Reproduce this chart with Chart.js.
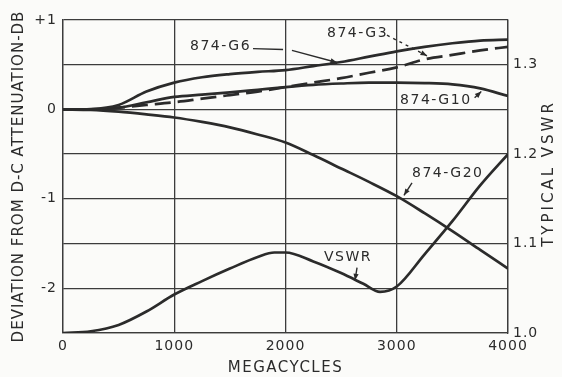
<!DOCTYPE html>
<html>
<head>
<meta charset="utf-8">
<script src="https://cdn.jsdelivr.net/npm/chart.js@4"></script>
<style>
  html, body { margin: 0; background: #fbfbf9; }
  #wrap { width: 562px; height: 377px; }
</style>
</head>
<body>
<div id="wrap"><canvas id="chart"></canvas></div>
<script>
"use strict";

// Frequencies (megacycles) at which the attenuation curves were read.
const megacycles = [0, 250, 500, 750, 1000, 1250, 1500, 1750, 2000, 2250, 2500, 2750, 3000, 3250, 3500, 3750, 4000];

// Deviation from d-c attenuation, dB.
const g6  = [0, 0.005, 0.05, 0.20, 0.30, 0.36, 0.395, 0.42, 0.44, 0.485, 0.53, 0.59, 0.65, 0.70, 0.74, 0.77, 0.78];
const g3  = [0, 0, 0.02, 0.05, 0.08, 0.12, 0.16, 0.20, 0.25, 0.30, 0.35, 0.41, 0.47, 0.56, 0.61, 0.66, 0.70];
const g10 = [0, 0, 0.02, 0.08, 0.14, 0.165, 0.19, 0.22, 0.25, 0.275, 0.29, 0.30, 0.30, 0.295, 0.28, 0.235, 0.15];
const g20 = [0, -0.005, -0.025, -0.055, -0.09, -0.14, -0.20, -0.28, -0.37, -0.51, -0.66, -0.81, -0.97, -1.16, -1.36, -1.57, -1.78];

// Typical VSWR, read on its own frequency points.
const vswrMegacycles = [0, 250, 500, 750, 1000, 1250, 1500, 1750, 1900, 2000, 2250, 2500, 2700, 2850, 3000, 3250, 3500, 3750, 4000];
const vswr = [1.0, 1.002, 1.009, 1.024, 1.043, 1.058, 1.072, 1.085, 1.090, 1.090, 1.080, 1.067, 1.055, 1.046, 1.052, 1.088, 1.125, 1.165, 1.2];

// Labelled ticks.
const dbTicks = [1, 0, -1, -2];
const dbTickLabels = ["+1", "0", "-1", "-2"];
const vswrTicks = [1.0, 1.1, 1.2, 1.3];
const vswrTickLabels = ["1.0", "1.1", "1.2", "1.3"];
const mcTicks = [0, 1000, 2000, 3000, 4000];
const mcTickLabels = ["0", "1000", "2000", "3000", "4000"];

const INK = "#2b2b2b";
const GRID = "#3c3c3c";
const PAPER = "#fbfbf9";
const FONT = "'DejaVu Sans', sans-serif";

const pairs = (xs, ys) => xs.map((x, i) => ({ x, y: ys[i] }));

function curve(label, xs, ys, axis, dash) {
  return {
    label,
    data: pairs(xs, ys),
    yAxisID: axis,
    borderColor: INK,
    borderWidth: 2.7,
    borderDash: dash || [],
    pointRadius: 0,
    cubicInterpolationMode: "monotone",
    fill: false,
  };
}

/** Label a tick only when it matches one of the listed values. */
function pickLabel(values, labels) {
  return (v) => {
    const i = values.findIndex((t) => Math.abs(t - v) < 1e-6);
    return i < 0 ? "" : labels[i];
  };
}

// Hand-lettered notes on the drawing, placed in data units.
const notes = [
  { text: "874-G6", at: [1142, 0.70], align: "left" },
  { text: "874-G3", at: [2373, 0.85], align: "left" },
  { text: "874-G10", at: [3030, 0.10], align: "left" },
  { text: "874-G20", at: [3137, -0.72], align: "left" },
  { text: "VSWR", at: [2562, -1.65], align: "center" },
];

const leaders = [
  { from: [1708, 0.68], to: [1978, 0.67], head: false },
  { from: [2058, 0.66], to: [2463, 0.525], head: true },
  { from: [2912, 0.83], to: [3272, 0.60], head: true, dash: [3, 4] },
  { from: [3700, 0.13], to: [3760, 0.20], head: true },
  { from: [3137, -0.82], to: [3065, -0.96], head: true },
  { from: [2643, -1.77], to: [2625, -1.91], head: true },
];

function arrowHead(ctx, x0, y0, x1, y1) {
  const a = Math.atan2(y1 - y0, x1 - x0);
  const len = 7, w = 0.38;
  ctx.beginPath();
  ctx.moveTo(x1, y1);
  ctx.lineTo(x1 - len * Math.cos(a - w), y1 - len * Math.sin(a - w));
  ctx.lineTo(x1 - len * Math.cos(a + w), y1 - len * Math.sin(a + w));
  ctx.closePath();
  ctx.fill();
}

function spacedText(ctx, text, x, y, size, spacing, rotation) {
  ctx.save();
  ctx.translate(x, y);
  if (rotation) ctx.rotate(rotation);
  ctx.font = `${size}px ${FONT}`;
  ctx.letterSpacing = `${spacing}px`;
  ctx.textAlign = "center";
  ctx.textBaseline = "middle";
  ctx.fillText(text, 0, 0);
  ctx.restore();
}

const paperPlugin = {
  id: "paper",
  beforeLayout(chart) {
    chart.ctx.letterSpacing = "1px";
  },
  beforeDraw(chart) {
    const { ctx, width, height } = chart;
    ctx.letterSpacing = "1px";
    ctx.save();
    ctx.fillStyle = PAPER;
    ctx.fillRect(0, 0, width, height);
    ctx.restore();
  },
  afterDraw(chart) {
    const { ctx, chartArea: area } = chart;
    const x = chart.scales.x, y = chart.scales.y;
    const midY = (area.top + area.bottom) / 2;

    ctx.save();
    ctx.fillStyle = INK;
    ctx.strokeStyle = INK;

    // Axis titles.
    spacedText(ctx, "DEVIATION FROM D-C ATTENUATION-DB", 19, midY, 15, 1, -Math.PI / 2);
    spacedText(ctx, "TYPICAL VSWR", area.right + 41, midY - 3, 15, 3, -Math.PI / 2);
    spacedText(ctx, "MEGACYCLES", (area.left + area.right) / 2, area.bottom + 35, 15, 1.5, 0);

    // Curve notes.
    ctx.font = `14px ${FONT}`;
    ctx.letterSpacing = "1.5px";
    ctx.textBaseline = "middle";
    for (const n of notes) {
      ctx.textAlign = n.align;
      ctx.fillText(n.text, x.getPixelForValue(n.at[0]), y.getPixelForValue(n.at[1]));
    }

    ctx.lineWidth = 1.4;
    for (const l of leaders) {
      const x0 = x.getPixelForValue(l.from[0]), y0 = y.getPixelForValue(l.from[1]);
      const x1 = x.getPixelForValue(l.to[0]), y1 = y.getPixelForValue(l.to[1]);
      ctx.setLineDash(l.dash || []);
      ctx.beginPath();
      ctx.moveTo(x0, y0);
      ctx.lineTo(x1, y1);
      ctx.stroke();
      ctx.setLineDash([]);
      if (l.head) arrowHead(ctx, x0, y0, x1, y1);
    }
    ctx.restore();
  },
};

const gridStyle = { color: GRID, lineWidth: 1.3, drawTicks: false };
const borderStyle = { display: true, color: GRID, width: 1.3 };
const tickFont = { family: FONT, size: 14 };

new Chart(document.getElementById("chart"), {
  type: "line",
  data: {
    datasets: [
      curve("874-G6", megacycles, g6, "y"),
      curve("874-G3", megacycles, g3, "y", [16, 7]),
      curve("874-G10", megacycles, g10, "y"),
      curve("874-G20", megacycles, g20, "y"),
      curve("VSWR", vswrMegacycles, vswr, "y1"),
    ],
  },
  options: {
    responsive: true,
    maintainAspectRatio: false,
    animation: false,
    layout: { padding: { top: 20, left: 0, right: 0, bottom: 0 } },
    plugins: { legend: { display: false }, tooltip: { enabled: false } },
    scales: {
      x: {
        type: "linear",
        min: 0,
        max: 4000,
        grid: gridStyle,
        border: borderStyle,
        ticks: { stepSize: 1000, color: INK, font: tickFont, padding: 5, maxRotation: 0, callback: pickLabel(mcTicks, mcTickLabels) },
        afterFit: (s) => { s.height = 44; },
      },
      y: {
        position: "left",
        min: -2.5,
        max: 1,
        grid: gridStyle,
        border: borderStyle,
        ticks: { stepSize: 0.5, color: INK, font: tickFont, padding: 6, callback: pickLabel(dbTicks, dbTickLabels) },
        afterFit: (s) => { s.width = 63; },
      },
      y1: {
        position: "right",
        min: 1.0,
        max: 1.35,
        grid: { drawOnChartArea: false, drawTicks: false },
        border: borderStyle,
        ticks: { stepSize: 0.05, color: INK, font: tickFont, padding: 5, callback: pickLabel(vswrTicks, vswrTickLabels) },
        afterFit: (s) => { s.width = 54; },
      },
    },
  },
  plugins: [paperPlugin],
});
</script>
</body>
</html>
